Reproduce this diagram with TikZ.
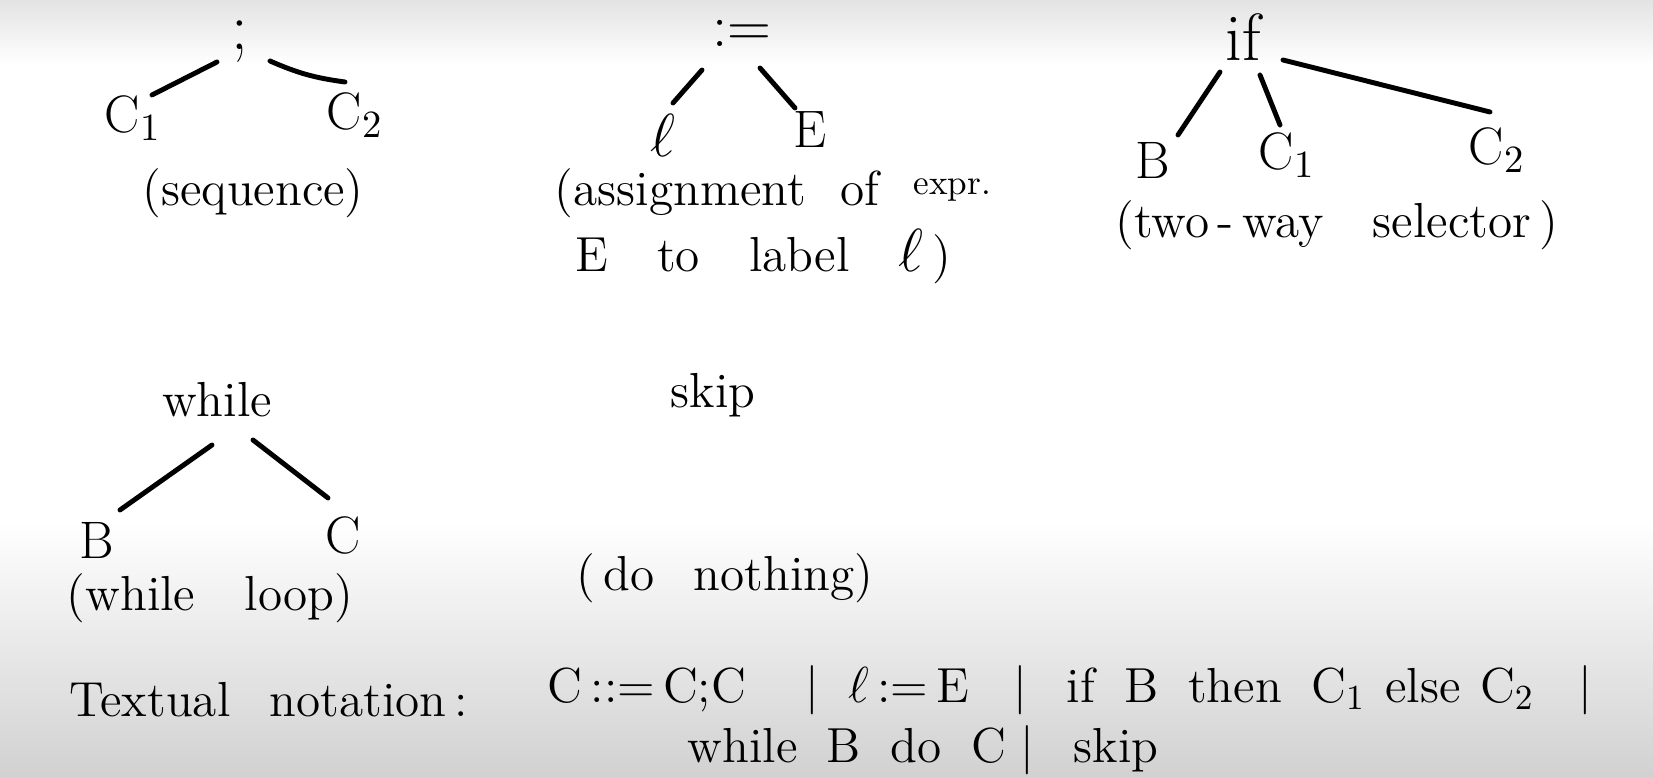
\documentclass[tikz,border=0pt]{standalone}
\usetikzlibrary{calc}
\begin{document}
\begin{tikzpicture}[x=0.01cm,y=-0.01cm,
  txt/.style={inner sep=0pt, font=\fontsize{14}{17}\selectfont},
  letter/.style={inner sep=0pt, font=\fontsize{15}{18}\selectfont},
  root/.style={inner sep=0pt, font=\fontsize{19}{23}\selectfont},
  branch/.style={line width=1.4pt, line cap=round}]
\useasboundingbox (0,0) rectangle (1653,777);
\fill[white] (0,0) rectangle (1653,777);
\shade[top color=black!11, bottom color=white] (0,0) rectangle (1653,65);
\shade[top color=white, bottom color=black!18] (0,520) rectangle (1653,777);

% sequence
\node[root] (semi) at (240,42) {;};
\node[letter] (sc1) at (133,118) {C$_1$};
\node[letter] (sc2) at (355,115) {C$_2$};
\node[txt] (seqlab) at (253,193) {(sequence)};
\draw[branch] ([shift={(-23,20)}]semi.center) -- ([shift={(19,-23)}]sc1.center);
\draw[branch] ([shift={(30,19)}]semi.center) to[bend right=8] ([shift={(-10,-33)}]sc2.center);

% assignment
\node[txt] (assign) at (742,33) {\fontsize{17}{20}\selectfont$:=$};
\node[letter] (al) at (663,135) {\fontsize{19}{22}\selectfont$\ell$};
\node[letter] (ae) at (810,130) {E};
\node[txt] (alab1) at (773,193) {(assignment\hspace{0.7em}of\hspace{0.7em}\raisebox{3pt}{\fontsize{10}{12}\selectfont expr.}};
\node[txt] (alab2) at (763,257) {E\hspace{1em}to\hspace{1em}label\hspace{1em}{\fontsize{17}{20}\selectfont$\ell$}\,)};
\draw[branch] ([shift={(-40,37)}]assign.center) -- ([shift={(10,-32)}]al.center);
\draw[branch] ([shift={(18,35)}]assign.center) -- ([shift={(-15,-22)}]ae.center);

% if
\node[root] (ifn) at (1243,37) {if};
\node[letter] (ib) at (1153,160) {B};
\node[letter] (ic1) at (1287,155) {C$_1$};
\node[letter] (ic2) at (1497,150) {C$_2$};
\node[txt] (iflab) at (1337,225) {(two\,-\,way\hspace{1em}selector\,)};
\draw[branch] ([shift={(-23,35)}]ifn.center) -- ([shift={(25,-25)}]ib.center);
\draw[branch] ([shift={(17,38)}]ifn.center) -- ([shift={(-7,-30)}]ic1.center);
\draw[branch] ([shift={(40,23)}]ifn.center) -- ([shift={(-7,-38)}]ic2.center);

% while
\node[txt] (wh) at (217,400) {while};
\node[letter] (wb) at (97,540) {B};
\node[letter] (wc) at (343,535) {C};
\node[txt] (whlab) at (210,598) {(while\hspace{1em}loop)};
\draw[branch] ([shift={(-5,45)}]wh.center) -- ([shift={(23,-30)}]wb.center);
\draw[branch] ([shift={(36,40)}]wh.center) -- ([shift={(-15,-37)}]wc.center);

% skip
\node[txt] (sk) at (713,395) {skip};
\node[txt] (sklab) at (725,578) {(\,do\hspace{0.8em}nothing)};

% textual notation
\node[txt] (tn) at (269,700) {Textual\hspace{0.8em}notation\,:};
\node[txt] (tf1) at (1070,690) {C\,::=\,C;C\hspace{1.2em}|\hspace{0.6em}$\ell$\,:=\,E\hspace{0.9em}|\hspace{0.8em}if\hspace{0.6em}B\hspace{0.6em}then\hspace{0.6em}C$_1$\hspace{0.4em}else\hspace{0.4em}C$_2$\hspace{0.9em}|};
\node[txt] (tf2) at (923,750) {while\hspace{0.6em}B\hspace{0.6em}do\hspace{0.6em}C\hspace{0.3em}|\hspace{0.8em}skip};
\end{tikzpicture}
\end{document}
